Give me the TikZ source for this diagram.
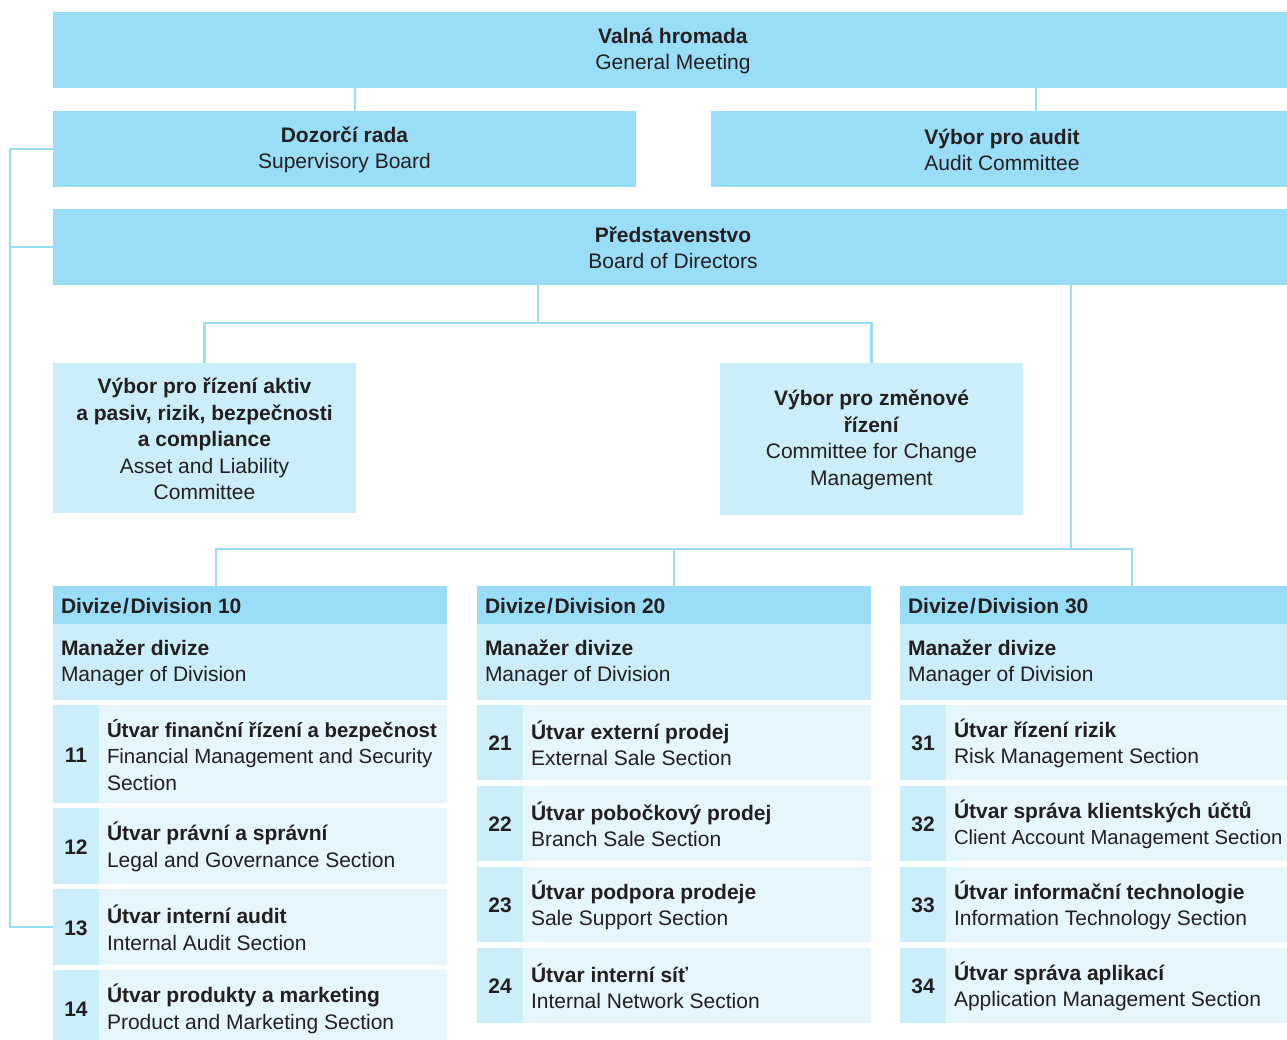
\documentclass[tikz,border=0pt]{standalone}
\usepackage{fontspec}
\setmainfont{Liberation Sans}
\definecolor{cdark}{HTML}{99DDF7}
\definecolor{cmid}{HTML}{CCEEFA}
\definecolor{clight}{HTML}{E5F6FD}
\definecolor{ctext}{HTML}{231F20}
\tikzset{
  cellbox/.style={inner sep=0pt, outer sep=0pt, anchor=north west, draw=none},
  txt/.style={inner sep=0pt, outer sep=0pt, text=ctext, yshift=-1pt, font=\fontsize{21}{26.5}\selectfont},
  ctxt/.style={txt, align=center},
  ltxt/.style={txt, align=left, anchor=west},
  conn/.style={draw=cdark, line width=2.5pt},
}
\newcommand\narrow{\fontsize{20.4}{26.5}\selectfont}
% name, x, y, width, height, fill
\newcommand\mycell[6]{\node[cellbox, fill=#6, minimum width=#4pt, minimum height=#5pt] (#1) at (#2,#3) {};}
% name, x, y, height, number, text
\newcommand\secrow[6]{%
  \node[cellbox, fill=cmid, minimum width=46pt, minimum height=#4pt] (#1n) at (#2,#3) {};
  \node[cellbox, fill=clight, minimum width=348pt, minimum height=#4pt] (#1c) at (#1n.north east) {};
  \node[ctxt, font=\fontsize{21}{26.5}\selectfont\bfseries] (#1num) at (#1n.center) {#5};
  \node[ltxt] (#1t) at ([xshift=8pt]#1c.west) {#6};
}
% name, x, number
\newcommand\divhead[3]{%
  \mycell{#1h}{#2}{586}{394}{38}{cdark}
  \node[ltxt, font=\fontsize{21}{26.5}\selectfont\bfseries] (#1ht) at ([xshift=8pt]#1h.west) {Divize\kern1.5pt/\kern1.5ptDivision #3};
  \mycell{#1m}{#2}{624}{394}{76}{cmid}
  \node[ltxt] (#1mt) at ([xshift=8pt]#1m.west) {\textbf{Manažer divize}\\Manager of Division};
}
\begin{document}
\begin{tikzpicture}[x=1pt,y=-1pt]
\clip (0,0) rectangle (1287,1039);
\fill[white] (0,0) rectangle (1287,1039);

% top level
\mycell{vh}{53}{12}{1240}{76}{cdark}
\node[ctxt] (vht) at (vh.center) {\textbf{Valná hromada}\\General Meeting};
\mycell{dr}{53}{111}{583}{76}{cdark}
\node[ctxt] (drt) at (dr.center) {\textbf{Dozorčí rada}\\Supervisory Board};
\mycell{au}{711}{111}{582}{76}{cdark}
\node[ctxt] (aut) at (au.center) {\textbf{Výbor pro audit}\\Audit Committee};
\mycell{pr}{53}{209}{1240}{76}{cdark}
\node[ctxt] (prt) at (pr.center) {\textbf{Představenstvo}\\Board of Directors};

% committees
\mycell{alco}{53}{363}{303}{150}{cmid}
\node[ctxt] (alcot) at (alco.center) {\textbf{Výbor pro řízení aktiv}\\\textbf{a pasiv, rizik, bezpečnosti}\\\textbf{a compliance}\\Asset and Liability\\Committee};
\mycell{chg}{720}{363}{303}{152}{cmid}
\node[ctxt] (chgt) at (chg.center) {\textbf{Výbor pro změnové}\\\textbf{řízení}\\Committee for Change\\Management};

% divisions
\divhead{da}{53}{10}
\divhead{db}{477}{20}
\divhead{dc}{900}{30}

\secrow{s11}{53}{705}{98}{11}{{\narrow\bfseries Útvar finanční řízení a bezpečnost}\\{\narrow Financial Management and Security}\\Section}
\secrow{s12}{53}{808}{76}{12}{\textbf{Útvar právní a správní}\\Legal and Governance Section}
\secrow{s13}{53}{889}{76}{13}{\textbf{Útvar interní audit}\\Internal Audit Section}
\secrow{s14}{53}{970}{76}{14}{\textbf{Útvar produkty a marketing}\\Product and Marketing Section}

\secrow{s21}{477}{705}{75}{21}{\textbf{Útvar externí prodej}\\External Sale Section}
\secrow{s22}{477}{786}{75}{22}{\textbf{Útvar pobočkový prodej}\\Branch Sale Section}
\secrow{s23}{477}{867}{75}{23}{\textbf{Útvar podpora prodeje}\\Sale Support Section}
\secrow{s24}{477}{948}{75}{24}{\textbf{Útvar interní síť}\\Internal Network Section}

\secrow{s31}{900}{705}{75}{31}{\textbf{Útvar řízení rizik}\\Risk Management Section}
\secrow{s32}{900}{786}{75}{32}{\textbf{Útvar správa klientských účtů}\\{\fontsize{20.3}{26.5}\selectfont Client Account Management Section}}
\secrow{s33}{900}{867}{75}{33}{\textbf{Útvar informační technologie}\\Information Technology Section}
\secrow{s34}{900}{948}{75}{34}{\textbf{Útvar správa aplikací}\\Application Management Section}

% connectors
\coordinate (j1) at (355,100);
\coordinate (j2) at (1036,100);
\draw[conn] (j1 |- vh.south) -- (j1 |- dr.north);
\draw[conn] (j2 |- vh.south) -- (j2 |- au.north);

\coordinate (L) at (10,0);
\draw[conn] (dr.west) -- (dr.west -| L) -- (s13n.west -| L) -- (s13n.west);
\draw[conn] (pr.west) -- (pr.west -| L);

\coordinate (b1) at (538,323);
\draw[conn] (b1 |- pr.south) -- (b1);
\draw[conn] (alco.north) -- (alco.north |- b1) -- (chg.north |- b1) -- (chg.north);

\coordinate (b2) at (1071,549);
\coordinate (k1) at (216,549);
\coordinate (k3) at (1132,549);
\draw[conn] (b2 |- pr.south) -- (b2);
\draw[conn] (k1 |- dah.north) -- (k1) -- (k3) -- (k3 |- dch.north);
\draw[conn] (dbh.north) -- (dbh.north |- k1);
\end{tikzpicture}
\end{document}
